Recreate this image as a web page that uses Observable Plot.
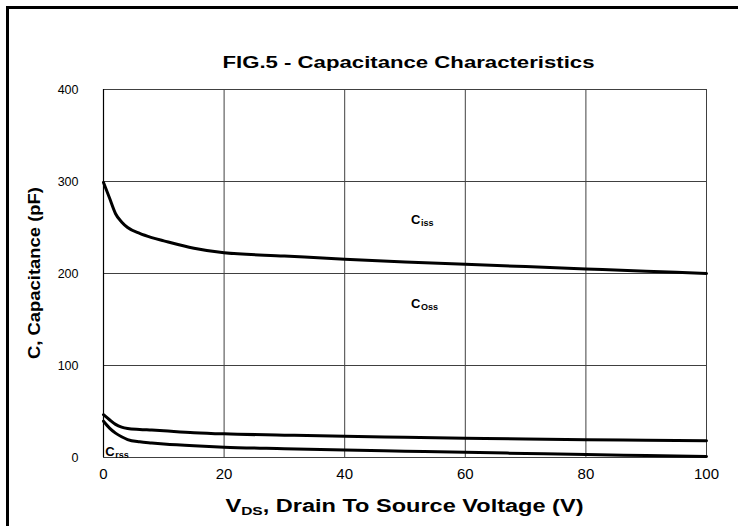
<!DOCTYPE html>
<html><head><meta charset="utf-8">
<script src="https://cdn.jsdelivr.net/npm/d3@7"></script>
<script src="https://cdn.jsdelivr.net/npm/@observablehq/plot@0.6"></script>
<style>
body{margin:0;background:#fff;font-family:"Liberation Sans",Arial,sans-serif;}
#wrap{position:relative;width:738px;height:526px;overflow:hidden;background:#fff;}
#frame{position:absolute;left:6px;top:6px;width:900px;height:900px;border-left:3px solid #000;border-top:3px solid #000;}
#chart{position:absolute;left:0;top:0;}
</style></head>
<body><div id="wrap"><div id="frame"></div><div id="chart"></div></div>
<script>
const vds  = [0, 1, 2, 3, 4, 6, 8, 10, 15, 20, 30, 40, 50, 60, 70, 80, 90, 100];
const ciss = [299, 282, 265, 256, 250, 243.5, 239, 235.5, 227.5, 222.5, 219, 215.5, 212.5, 210, 207.5, 205, 202.5, 200];
const coss = [46.5, 41, 36, 33, 31.5, 30.5, 29.8, 29, 27, 25.7, 24.3, 23, 22, 21, 20, 19.3, 18.8, 18.3];
const crss = [39.5, 32, 26.5, 22.5, 19.5, 17, 15.8, 14.8, 12.8, 11.2, 9.6, 8.2, 6.9, 5.6, 4.4, 3.2, 2.1, 1];
const xTicks = [0, 20, 40, 60, 80, 100];
const yTicks = [0, 100, 200, 300, 400];
const seriesNames = ["Ciss", "Coss", "Crss"];
const curveLabels = [
  {main: "C", sub: "iss", x: 51, y: 254},
  {main: "C", sub: "Oss", x: 51, y: 162},
  {main: "C", sub: "rss", x: 0.3, y: 2}
];
const titleText = "FIG.5 - Capacitance Characteristics";
const xLabelMain = "V", xLabelSub = "DS", xLabelRest = ", Drain To Source Voltage (V)";
const yLabel = "C, Capacitance (pF)";

const seriesValues = [ciss, coss, crss];
const rows = [];
seriesValues.forEach((vals, i) => vals.forEach((c, j) => rows.push({v: vds[j], c, s: seriesNames[i]})));

const plot = Plot.plot({
  width: 738, height: 526,
  marginLeft: 103, marginRight: 32, marginTop: 89, marginBottom: 69,
  x: {domain: [0, 100], label: null},
  y: {domain: [0, 400], label: null},
  style: {background: "transparent", fontFamily: "'Liberation Sans', Arial, sans-serif", color: "#000"},
  marks: [
    Plot.gridX(xTicks, {stroke: "#404040", strokeOpacity: 1, strokeWidth: 1}),
    Plot.gridY(yTicks, {stroke: "#404040", strokeOpacity: 1, strokeWidth: 1}),
    Plot.ruleX([0], {stroke: "#000", strokeWidth: 1.2}),
    Plot.axisX(xTicks, {tickSize: 0, tickPadding: 11, fontSize: 15, label: null}),
    Plot.axisY(yTicks, {tickSize: 0, tickPadding: 25, fontSize: 12.5, label: null}),
    Plot.line(rows, {x: "v", y: "c", z: "s", stroke: "#000", strokeWidth: 3, curve: "monotone-x"}),
    Plot.text(curveLabels, {x: "x", y: "y", text: "main", textAnchor: "start", lineAnchor: "bottom", fontSize: 13, fontWeight: "bold", fill: "#000"}),
    Plot.text(curveLabels, {x: "x", y: "y", text: "sub", textAnchor: "start", lineAnchor: "bottom", dx: 10, dy: 2, fontSize: 9, fontWeight: "bold", fill: "#000"})
  ]
});
document.getElementById("chart").appendChild(plot);

const svg = d3.select(plot);
const xs = plot.scale("x"), ys = plot.scale("y");
const xc = (xs.range[0] + xs.range[1]) / 2;
const yc = (ys.range[0] + ys.range[1]) / 2;
svg.append("text")
  .attr("x", xc + 4).attr("y", 68)
  .attr("text-anchor", "middle")
  .attr("font-size", 16).attr("font-weight", "bold").attr("fill", "#000")
  .attr("textLength", 372).attr("lengthAdjust", "spacingAndGlyphs")
  .text(titleText);
const xl = svg.append("text")
  .attr("x", xc).attr("y", 512)
  .attr("text-anchor", "middle")
  .attr("font-size", 17.5).attr("font-weight", "bold").attr("fill", "#000")
  .attr("textLength", 358).attr("lengthAdjust", "spacingAndGlyphs");
xl.append("tspan").text(xLabelMain);
xl.append("tspan").attr("font-size", 11.5).attr("dy", 3).text(xLabelSub);
xl.append("tspan").attr("dy", -3).text(xLabelRest);
svg.append("text")
  .attr("transform", `translate(40,${yc}) rotate(-90)`)
  .attr("text-anchor", "middle")
  .attr("font-size", 16).attr("font-weight", "bold").attr("fill", "#000")
  .attr("textLength", 172).attr("lengthAdjust", "spacingAndGlyphs")
  .text(yLabel);
</script>
</body></html>
